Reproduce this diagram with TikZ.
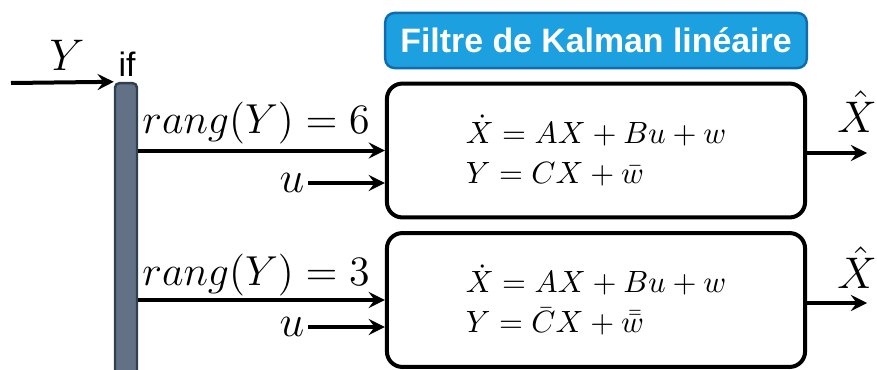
\documentclass[tikz,border=0pt]{standalone}
\usepackage{amsmath,amssymb}
\usepackage{graphicx}
\usepackage{fontspec}
\usepackage{xcolor}
\usepackage{tikz}
\usetikzlibrary{shapes,arrows,positioning,calc}
\newfontfamily\titlefont{Liberation Sans}
\definecolor{kalmanblue}{RGB}{28,160,224}
\definecolor{kalmanedge}{RGB}{16,108,176}
\definecolor{barfill}{RGB}{98,113,133}
\definecolor{baredge}{RGB}{48,64,80}
\newcommand{\rangtext}[1]{\scalebox{0.945}{$rang(Y) = #1$}}

\begin{document}
\begin{tikzpicture}[
    x=0.325pt, y=-0.325pt,
    filtbox/.style={rectangle, draw=black, line width=1.3pt, rounded corners=5pt, minimum width=135.9pt, minimum height=43.5pt, align=left, font=\fontsize{10}{13}\selectfont},
    titlebox/.style={rectangle, draw=kalmanedge, fill=kalmanblue, line width=0.8pt, rounded corners=3pt, minimum width=137pt, minimum height=17.9pt, text=white, font=\titlefont\bfseries\fontsize{11}{13}\selectfont},
    ifbar/.style={rectangle, draw=baredge, fill=barfill, line width=0.8pt, rounded corners=1.5pt, minimum width=7.15pt, minimum height=96.5pt, inner sep=0pt},
    lbl/.style={font=\fontsize{14}{16}\selectfont, inner sep=1pt},
    ranglbl/.style={font=\fontsize{14.4}{17}\selectfont, inner sep=1pt, anchor=base},
    arrow/.style={->, line width=1.3pt, >=stealth}
]
\useasboundingbox (0,0) rectangle (877,370);

% Title
\node[titlebox] (title) at (596,40.5) {Filtre de Kalman linéaire};

% Switch bar
\node[ifbar] (bar) at (126,231.5) {};
\node[font=\titlefont\fontsize{11}{13}\selectfont] (iflbl) at (127,64) {if};
\coordinate (yin) at (11,83);
\node[lbl] (ylbl) at (67,55) {$Y$};

% Filters
\node[filtbox] (filt1) at (596,150.5) {$\dot X = AX + Bu + w$\\$Y = CX + \bar w$};
\node[filtbox] (filt2) at (596,300) {$\dot X = AX + Bu + w$\\$Y = \bar C X + \bar{\bar w}$};

% Labels
\node[ranglbl] (rang1) at (256,133) {\rangtext{6}};
\node[ranglbl] (rang2) at (256,285) {\rangtext{3}};
\node[lbl] (u1) at (292,183) {$u$};
\node[lbl] (u2) at (292,327) {$u$};
\coordinate (out1) at (867,153);
\coordinate (out2) at (867,303);
\node[lbl] (xh1) at (857,112) {$\hat X$};
\node[lbl] (xh2) at (857,268) {$\hat X$};

% Arrows
\draw[arrow] (yin) -- (bar.north west);
\draw[arrow] (bar.east |- filt1.west) -- (filt1.west);
\draw[arrow] (bar.east |- filt2.west) -- (filt2.west);
\draw[arrow] (u1.east) -- (u1.east -| filt1.west);
\draw[arrow] (u2.east) -- (u2.east -| filt2.west);
\draw[arrow] (filt1.east |- out1) -- (out1);
\draw[arrow] (filt2.east |- out2) -- (out2);

\end{tikzpicture}
\end{document}
